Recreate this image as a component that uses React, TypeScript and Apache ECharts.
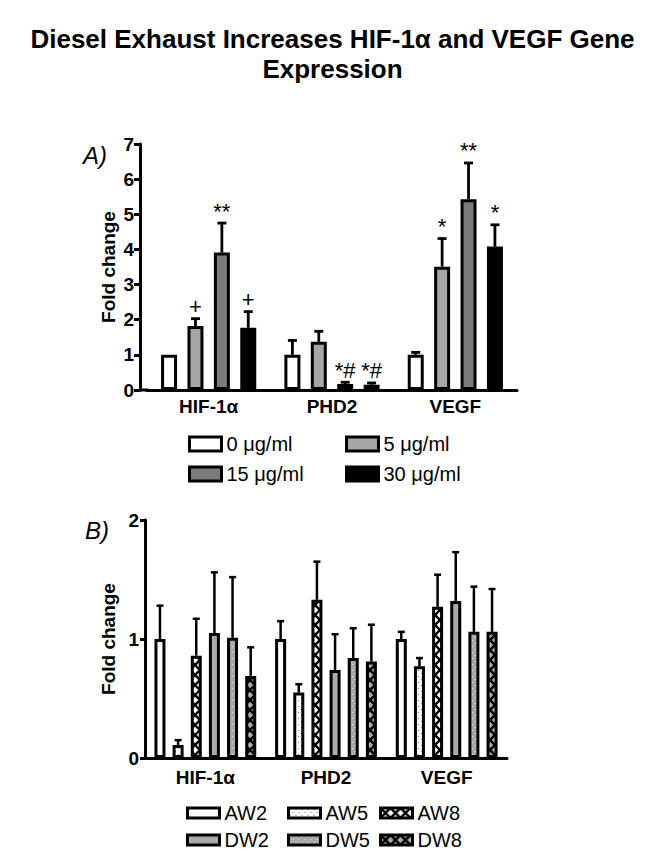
import React, { useEffect, useRef } from 'react';
import * as echarts from 'echarts';

const FONT = "'Liberation Sans', Arial, Helvetica, sans-serif";

const categories = ['HIF-1α', 'PHD2', 'VEGF'];

// Panel A: dose groups (mean fold change, SEM, significance marks)
const dosesA = ['0 μg/ml', '5 μg/ml', '15 μg/ml', '30 μg/ml'];
const dose0Mean = [1.0, 1.0, 1.0];
const dose0Sem = [0, 0.41, 0.07];
const dose0Sig = ['', '', ''];
const dose5Mean = [1.82, 1.37, 3.51];
const dose5Sem = [0.21, 0.3, 0.8];
const dose5Sig = ['+', '', '*'];
const dose15Mean = [3.91, 0.17, 5.43];
const dose15Sem = [0.84, 0.05, 1.03];
const dose15Sig = ['**', '*#', '**'];
const dose30Mean = [1.77, 0.15, 4.08];
const dose30Sem = [0.46, 0.05, 0.62];
const dose30Sig = ['+', '*#', '*'];

// Panel B: particle groups
const groupsB = ['AW2', 'AW5', 'AW8', 'DW2', 'DW5', 'DW8'];
const aw2Mean = [1.0, 1.0, 1.0];
const aw2Sem = [0.28, 0.15, 0.06];
const aw5Mean = [0.11, 0.55, 0.77];
const aw5Sem = [0.04, 0.07, 0.07];
const aw8Mean = [0.86, 1.33, 1.27];
const aw8Sem = [0.31, 0.32, 0.27];
const dw2Mean = [1.05, 0.74, 1.32];
const dw2Sem = [0.51, 0.3, 0.41];
const dw5Mean = [1.01, 0.84, 1.06];
const dw5Sem = [0.51, 0.25, 0.38];
const dw8Mean = [0.69, 0.81, 1.06];
const dw8Sem = [0.24, 0.31, 0.36];

const yMaxA = 7;
const yMaxB = 2;

function makePattern(bg: string, w: number, h: number, draw: (ctx: CanvasRenderingContext2D) => void) {
  const c = document.createElement('canvas');
  c.width = w;
  c.height = h;
  const ctx = c.getContext('2d') as CanvasRenderingContext2D;
  ctx.fillStyle = bg;
  ctx.fillRect(0, 0, w, h);
  draw(ctx);
  return { image: c, repeat: 'repeat', imageWidth: w, imageHeight: h } as any;
}

const dots = (color: string) => (ctx: CanvasRenderingContext2D) => {
  ctx.fillStyle = color;
  ctx.fillRect(1, 1, 1, 1);
  ctx.fillRect(4, 4, 1, 1);
};

const cross = (ctx: CanvasRenderingContext2D) => {
  ctx.strokeStyle = '#000';
  ctx.lineWidth = 2.4;
  ctx.beginPath();
  ctx.moveTo(-1, -1);
  ctx.lineTo(11, 11);
  ctx.moveTo(11, -1);
  ctx.lineTo(-1, 11);
  ctx.stroke();
};

function errorRenderer(k: number, n: number, bw: number, gap: number, sig: string[], capW: number, lw: number) {
  return (params: any, api: any) => {
    const ci = api.value(0);
    const m = api.value(1);
    const s = api.value(2);
    const base = api.coord([ci, m]);
    const top = api.coord([ci, m + s]);
    const total = n * bw + (n - 1) * bw * gap;
    const cx = base[0] - total / 2 + bw / 2 + k * bw * (1 + gap);
    const children: any[] = [];
    if (s > 0) {
      children.push({ type: 'line', shape: { x1: cx, y1: base[1], x2: cx, y2: top[1] }, style: { stroke: '#000', lineWidth: lw } });
      children.push({ type: 'line', shape: { x1: cx - capW / 2, y1: top[1], x2: cx + capW / 2, y2: top[1] }, style: { stroke: '#000', lineWidth: lw } });
    }
    const label = sig[ci];
    if (label) {
      children.push({
        type: 'text',
        x: cx,
        y: top[1] - 1,
        style: {
          text: label, fill: '#000', font: `22px ${FONT}`,
          textAlign: 'center', textVerticalAlign: 'bottom', align: 'center', verticalAlign: 'bottom',
        },
      });
    }
    return { type: 'group', children };
  };
}

export default function App() {
  const ref = useRef<HTMLDivElement>(null);
  useEffect(() => {
    if (!ref.current) return;
    const chart = echarts.init(ref.current, null, { renderer: 'svg' });

    const bwA = 16, gapA = 0.65;
    const bwB = 11, gapB = 0.65;

    const aSets = [
      { name: dosesA[0], mean: dose0Mean, sem: dose0Sem, sig: dose0Sig, color: '#ffffff' },
      { name: dosesA[1], mean: dose5Mean, sem: dose5Sem, sig: dose5Sig, color: '#a6a6a6' },
      { name: dosesA[2], mean: dose15Mean, sem: dose15Sem, sig: dose15Sig, color: '#7b7b7b' },
      { name: dosesA[3], mean: dose30Mean, sem: dose30Sem, sig: dose30Sig, color: '#000000' },
    ];
    const none = ['', '', ''];
    const bSets = [
      { name: groupsB[0], mean: aw2Mean, sem: aw2Sem, color: '#ffffff' as any },
      { name: groupsB[1], mean: aw5Mean, sem: aw5Sem, color: makePattern('#ffffff', 6, 6, dots('#7a7a7a')) },
      { name: groupsB[2], mean: aw8Mean, sem: aw8Sem, color: makePattern('#ffffff', 10, 10, cross) },
      { name: groupsB[3], mean: dw2Mean, sem: dw2Sem, color: '#ababab' as any },
      { name: groupsB[4], mean: dw5Mean, sem: dw5Sem, color: makePattern('#a9a9a9', 6, 6, dots('#e6e6e6')) },
      { name: groupsB[5], mean: dw8Mean, sem: dw8Sem, color: makePattern('#a9a9a9', 10, 10, cross) },
    ];

    const series: any[] = [];
    aSets.forEach((d) => {
      series.push({
        type: 'bar', name: d.name, xAxisIndex: 0, yAxisIndex: 0, data: d.mean,
        barWidth: bwA, barGap: '65%', z: 2,
        itemStyle: { color: d.color, borderColor: '#000', borderWidth: 3 },
      });
    });
    aSets.forEach((d, k) => {
      series.push({
        type: 'custom', xAxisIndex: 0, yAxisIndex: 0, z: 3, silent: true,
        data: d.mean.map((m, i) => [i, m, d.sem[i]]),
        encode: { x: 0, y: 1 },
        renderItem: errorRenderer(k, 4, bwA, gapA, d.sig, 9, 2.8),
      });
    });
    bSets.forEach((d) => {
      series.push({
        type: 'bar', name: d.name, xAxisIndex: 1, yAxisIndex: 1, data: d.mean,
        barWidth: bwB, barGap: '65%', z: 2,
        itemStyle: { color: d.color, borderColor: '#000', borderWidth: 3 },
      });
    });
    bSets.forEach((d, k) => {
      series.push({
        type: 'custom', xAxisIndex: 1, yAxisIndex: 1, z: 3, silent: true,
        data: d.mean.map((m, i) => [i, m, d.sem[i]]),
        encode: { x: 0, y: 1 },
        renderItem: errorRenderer(k, 6, bwB, gapB, none, 7, 2.5),
      });
    });

    const axisLabelStyle = { fontSize: 19, fontWeight: 'bold', color: '#000', fontFamily: FONT };
    const nameStyle = { fontSize: 19, fontWeight: 'bold', color: '#000', fontFamily: FONT };
    const legendBase = {
      orient: 'vertical', padding: 0, selectedMode: false, icon: 'rect',
      textStyle: { fontSize: 20, fontFamily: FONT, color: '#000' },
      itemStyle: { borderColor: '#000', borderWidth: 3 },
    };

    chart.setOption({
      animation: false,
      backgroundColor: '#ffffff',
      textStyle: { fontFamily: FONT },
      title: {
        text: 'Diesel Exhaust Increases HIF-1α and VEGF Gene\nExpression',
        left: 'center', top: 19,
        textStyle: { fontSize: 26, fontWeight: 'bold', fontFamily: FONT, color: '#000', lineHeight: 30 },
      },
      grid: [
        { left: 147, top: 144, width: 370, height: 246 },
        { left: 145, top: 520, width: 362, height: 238 },
      ],
      xAxis: [
        {
          type: 'category', gridIndex: 0, data: categories,
          axisLine: { lineStyle: { color: '#000', width: 3 } }, axisTick: { show: false },
          axisLabel: { ...axisLabelStyle, margin: 7 },
        },
        {
          type: 'category', gridIndex: 1, data: categories,
          axisLine: { lineStyle: { color: '#000', width: 3 } }, axisTick: { show: false },
          axisLabel: { ...axisLabelStyle, margin: 10 },
        },
      ],
      yAxis: [
        {
          type: 'value', gridIndex: 0, min: 0, max: yMaxA, interval: 1, offset: 7,
          axisLine: { show: true, lineStyle: { color: '#000', width: 3 } },
          axisTick: { show: true, length: 6, lineStyle: { color: '#000', width: 3 } },
          splitLine: { show: false },
          axisLabel: { ...axisLabelStyle, margin: 6 },
          name: 'Fold change', nameLocation: 'middle', nameGap: 22, nameMoveOverlap: false,
          nameTextStyle: nameStyle,
        },
        {
          type: 'value', gridIndex: 1, min: 0, max: yMaxB, interval: 1,
          axisLine: { show: true, lineStyle: { color: '#000', width: 3 } },
          axisTick: { show: true, length: 5, lineStyle: { color: '#000', width: 3 } },
          splitLine: { show: false },
          axisLabel: { ...axisLabelStyle, margin: 6 },
          name: 'Fold change', nameLocation: 'middle', nameGap: 27, nameMoveOverlap: false,
          nameTextStyle: nameStyle,
        },
      ],
      legend: [
        { ...legendBase, data: [dosesA[0], dosesA[2]], left: 188, top: 434, itemWidth: 32, itemHeight: 14, itemGap: 10 },
        { ...legendBase, data: [dosesA[1], dosesA[3]], left: 345, top: 434, itemWidth: 32, itemHeight: 14, itemGap: 10 },
        { ...legendBase, data: [groupsB[0], groupsB[3]], left: 186, top: 803, itemWidth: 32, itemHeight: 10, itemGap: 7 },
        { ...legendBase, data: [groupsB[1], groupsB[4]], left: 287, top: 803, itemWidth: 32, itemHeight: 10, itemGap: 7 },
        { ...legendBase, data: [groupsB[2], groupsB[5]], left: 379, top: 803, itemWidth: 32, itemHeight: 10, itemGap: 7 },
      ],
      graphic: [
        { type: 'line', shape: { x1: 139, y1: 390, x2: 148, y2: 390 }, style: { stroke: '#000', lineWidth: 3 } },
        { type: 'text', left: 83, top: 143, style: { text: 'A)', font: `italic 24px ${FONT}`, fill: '#000' } },
        { type: 'text', left: 85, top: 518, style: { text: 'B)', font: `italic 24px ${FONT}`, fill: '#000' } },
      ],
      series,
    });
    return () => chart.dispose();
  }, []);
  return <div ref={ref} style={{ position: 'absolute', left: 0, top: 0, width: 665, height: 858 }} />;
}
